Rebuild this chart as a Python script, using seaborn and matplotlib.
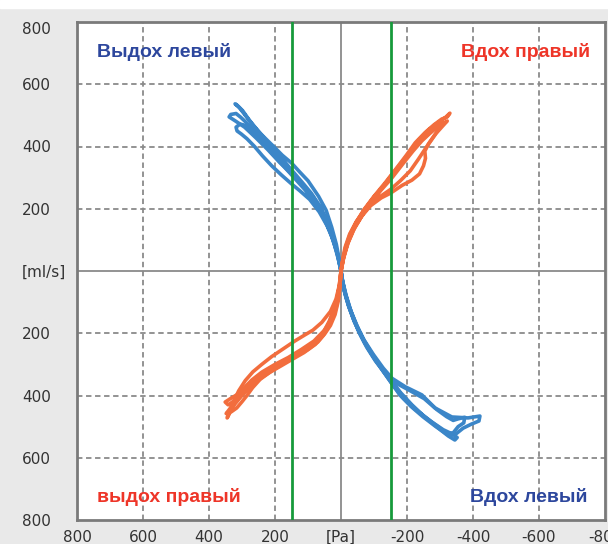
import numpy as np
import pandas as pd
import matplotlib
matplotlib.use("Agg")
import matplotlib.pyplot as plt
from matplotlib.patches import Rectangle
import seaborn as sns

### data (pressure [Pa], flow [ml/s]) ###
x_ticks = [800, 600, 400, 200, 0, -200, -400, -600, -800]
x_labels = ['800', '600', '400', '200', '[Pa]', '-200', '-400', '-600', '-800']
y_ticks = [800, 600, 400, 200, 0, -200, -400, -600, -800]
y_labels = ['800', '600', '400', '200', '[ml/s]', '200', '400', '600', '800']
marker_lines = [150, -150]

# left side (blue): exhale branch (upper left) and inhale branch (lower right)
left_exhale_a = [(0, 0), (6, 40), (14, 85), (28, 140), (45, 195), (68, 240), (100, 290), (125, 318),
                 (150, 347), (178, 372), (206, 402), (235, 432), (262, 462), (290, 500), (308, 525),
                 (321, 537), (314, 532), (298, 515), (278, 485), (255, 455), (232, 425), (205, 392),
                 (178, 360), (150, 325), (120, 288), (90, 250), (62, 205), (40, 150), (20, 85),
                 (6, 30), (0, 0)]
left_exhale_b = [(0, 0), (9, 50), (20, 100), (38, 150), (58, 195), (85, 240), (118, 280), (150, 312),
                 (185, 348), (222, 390), (258, 428), (292, 462), (320, 482), (339, 495), (334, 503),
                 (318, 506), (304, 494), (286, 476), (262, 448), (235, 418), (205, 385), (175, 350),
                 (145, 312), (112, 272), (80, 230), (52, 180), (30, 120), (12, 60), (0, 0)]
left_exhale_c = [(0, 0), (8, 45), (22, 95), (42, 145), (66, 190), (95, 230), (125, 258), (150, 280),
                 (180, 308), (210, 338), (238, 370), (262, 400), (285, 425), (302, 440), (315, 450),
                 (318, 462), (306, 472), (290, 468), (272, 450), (250, 425), (225, 398), (198, 365),
                 (168, 330), (138, 295), (110, 262), (80, 222), (52, 172), (30, 118), (12, 58), (0, 0)]
left_inhale_a = [(0, 0), (-5, -35), (-12, -70), (-25, -115), (-42, -160), (-60, -205), (-85, -250),
                 (-112, -295), (-145, -340), (-180, -390), (-215, -430), (-255, -470), (-295, -505),
                 (-325, -530), (-345, -543), (-352, -535), (-340, -525), (-310, -510), (-275, -485),
                 (-238, -455), (-200, -420), (-165, -375), (-130, -325), (-100, -280), (-72, -232),
                 (-50, -185), (-32, -135), (-16, -80), (-4, -30), (0, 0)]
left_inhale_b = [(0, 0), (-6, -40), (-15, -85), (-30, -130), (-48, -175), (-70, -222), (-98, -268),
                 (-128, -312), (-155, -345), (-195, -372), (-245, -398), (-285, -440), (-336, -469),
                 (-385, -472), (-421, -466), (-418, -482), (-395, -492), (-370, -505), (-350, -522),
                 (-330, -530), (-300, -505), (-262, -475), (-225, -445), (-190, -410), (-158, -368),
                 (-125, -318), (-95, -270), (-68, -222), (-45, -172), (-28, -125), (-14, -75),
                 (-4, -28), (0, 0)]
left_inhale_c = [(0, 0), (-4, -30), (-10, -65), (-22, -110), (-38, -155), (-56, -200), (-78, -245),
                 (-105, -290), (-138, -335), (-170, -362), (-210, -385), (-252, -410), (-290, -445),
                 (-320, -468), (-340, -480), (-355, -475), (-375, -470), (-372, -488), (-355, -500),
                 (-340, -520), (-318, -522), (-285, -498), (-248, -468), (-212, -435), (-178, -398),
                 (-148, -352), (-118, -305), (-88, -258), (-62, -210), (-40, -162), (-24, -115),
                 (-10, -62), (-2, -20), (0, 0)]

# right side (orange): inhale branch (upper right) and exhale branch (lower left)
right_inhale_a = [(0, 0), (-6, 40), (-15, 80), (-28, 120), (-48, 160), (-72, 198), (-100, 238),
                  (-128, 272), (-150, 302), (-178, 338), (-205, 375), (-232, 415), (-262, 450),
                  (-292, 475), (-315, 492), (-330, 507), (-322, 495), (-305, 488), (-282, 470),
                  (-255, 445), (-225, 412), (-198, 372), (-168, 330), (-135, 285), (-100, 240),
                  (-70, 198), (-45, 155), (-25, 108), (-10, 55), (0, 0)]
right_inhale_b = [(0, 0), (-8, 45), (-20, 90), (-38, 135), (-62, 175), (-90, 210), (-122, 235),
                  (-150, 250), (-185, 275), (-215, 292), (-238, 312), (-250, 338), (-256, 362),
                  (-254, 385), (-265, 408), (-288, 442), (-310, 468), (-322, 482), (-300, 468),
                  (-275, 448), (-248, 425), (-220, 398), (-192, 360), (-160, 318), (-128, 272),
                  (-96, 228), (-68, 185), (-42, 140), (-22, 92), (-8, 42), (0, 0)]
right_inhale_c = [(0, 0), (-5, 35), (-12, 75), (-26, 118), (-46, 158), (-75, 200), (-109, 232),
                  (-150, 262), (-180, 290), (-210, 322), (-235, 360), (-255, 392), (-278, 428),
                  (-298, 458), (-310, 478), (-296, 470), (-272, 445), (-245, 418), (-218, 385),
                  (-188, 345), (-155, 300), (-120, 258), (-88, 215), (-60, 172), (-36, 128),
                  (-18, 82), (-6, 35), (0, 0)]
right_exhale_a = [(0, 0), (5, -45), (15, -90), (32, -130), (58, -165), (85, -190), (109, -205),
                  (140, -225), (175, -250), (210, -275), (240, -300), (267, -324), (290, -352),
                  (310, -385), (328, -425), (345, -472), (338, -458), (322, -428), (300, -400),
                  (272, -370), (240, -342), (205, -318), (168, -292), (130, -268), (92, -242),
                  (62, -212), (40, -175), (22, -130), (10, -78), (2, -30), (0, 0)]
right_exhale_b = [(0, 0), (3, -45), (8, -95), (18, -140), (32, -175), (48, -200), (70, -228),
                  (100, -252), (130, -268), (150, -276), (185, -295), (220, -318), (255, -345),
                  (285, -372), (310, -394), (335, -410), (351, -421), (342, -430), (325, -418),
                  (302, -395), (278, -368), (252, -342), (222, -322), (188, -302), (150, -280),
                  (112, -258), (80, -232), (55, -200), (35, -160), (18, -112), (6, -55), (0, 0)]
right_exhale_c = [(0, 0), (2, -30), (6, -70), (14, -115), (28, -155), (50, -190), (82, -225),
                  (120, -252), (160, -278), (200, -300), (240, -325), (270, -350), (298, -380),
                  (318, -410), (335, -440), (348, -458), (332, -452), (316, -440), (300, -420),
                  (285, -400), (268, -375), (245, -348), (215, -325), (182, -305), (148, -284),
                  (112, -262), (78, -236), (52, -205), (32, -165), (16, -118), (5, -60), (0, 0)]

left_cycles = [left_exhale_a + left_inhale_a, left_exhale_b + left_inhale_b, left_exhale_c + left_inhale_c]
right_cycles = [right_inhale_a + right_exhale_a, right_inhale_b + right_exhale_b, right_inhale_c + right_exhale_c]


def to_frame(cycles):
    rows = []
    for k, cyc in enumerate(cycles):
        for i, (p, f) in enumerate(cyc):
            rows.append({'cycle': k, 'order': i, 'pressure': p, 'flow': f})
    return pd.DataFrame(rows)


left_df = to_frame(left_cycles)
right_df = to_frame(right_cycles)

### plot ###
sns.set_style("white")
plt.rcParams['font.family'] = ['DejaVu Sans']

fig = plt.figure(figsize=(6.08, 5.44), dpi=100, facecolor='#e9e9e9')
fig.patches.append(Rectangle((0, 1 - 8 / 544), 1, 8 / 544, transform=fig.transFigure,
                             color='white', zorder=0))
ax = fig.add_axes([77 / 608, 24 / 544, 528 / 608, 498 / 544])
ax.set_facecolor('white')

ax.set_xlim(800, -800)
ax.set_ylim(-800, 800)
ax.set_xticks(x_ticks)
ax.set_xticklabels(x_labels)
ax.set_yticks(y_ticks)
ax.set_yticklabels(y_labels)

grid_kw = dict(color='#8a8a8a', lw=1.3, zorder=1)
for t in x_ticks[1:-1]:
    if t == 0:
        ax.axvline(t, ls='-', **grid_kw)
    else:
        ax.axvline(t, ls=(0, (3, 2)), **grid_kw)
for t in y_ticks[1:-1]:
    if t == 0:
        ax.axhline(t, ls='-', **grid_kw)
    else:
        ax.axhline(t, ls=(0, (3, 2)), **grid_kw)

for xm in marker_lines:
    ax.axvline(xm, color='#179a3b', lw=2, zorder=4)

sns.lineplot(data=left_df, x='pressure', y='flow', units='cycle', estimator=None, sort=False,
             color='#3b86c8', lw=2.6, ax=ax, zorder=3)
sns.lineplot(data=right_df, x='pressure', y='flow', units='cycle', estimator=None, sort=False,
             color='#f26d3d', lw=2.6, ax=ax, zorder=3)

txt_kw = dict(fontsize=14, fontweight='bold', family='Liberation Sans', va='center')
ax.text(740, 705, 'Выдох левый', color='#2d479d', ha='left', **txt_kw)
ax.text(-755, 705, 'Вдох правый', color='#ee3528', ha='right', **txt_kw)
ax.text(740, -725, 'выдох правый', color='#ee3528', ha='left', **txt_kw)
ax.text(-748, -725, 'Вдох левый', color='#2d479d', ha='right', **txt_kw)

ax.set_xlabel('')
ax.set_ylabel('')
ax.tick_params(axis='both', length=0, labelsize=11, labelcolor='#333333')
ax.tick_params(axis='y', pad=39.6)
ax.tick_params(axis='x', pad=7)
for lab in ax.get_yticklabels():
    lab.set_ha('left')
ax.get_yticklabels()[0].set_va('top')

for s in ax.spines.values():
    s.set_color('#7a7a7a')
    s.set_linewidth(2)
    s.set_visible(True)

fig.savefig('out.png', dpi=100, facecolor=fig.get_facecolor())
